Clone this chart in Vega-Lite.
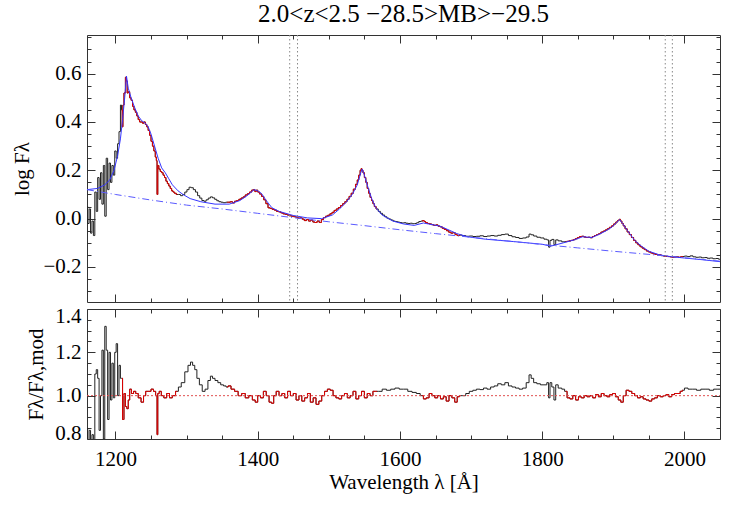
{
"$schema":"https://vega.github.io/schema/vega-lite/v6.json",
"padding":{"left":10,"top":2,"right":14,"bottom":4},
"bounds":"flush",
"config":{"font":"Liberation Serif, Times New Roman, serif","view":{"stroke":"#333","strokeWidth":1},"axis":{"grid":false,"labelFontSize":21,"titleFontSize":21,"labelColor":"#000","titleColor":"#000","titleFontWeight":"normal","tickColor":"#333","labelFont":"Liberation Serif, Times New Roman, serif","titleFont":"Liberation Serif, Times New Roman, serif","minExtent":0}},
"title":{"text":"2.0<z<2.5 −28.5>MB>−29.5","fontSize":25,"fontWeight":"normal","font":"Liberation Serif, Times New Roman, serif","color":"#000","anchor":"middle","frame":"group","offset":7},
"datasets":{
"spec":[
{"l":1160,"f":0.05,"w":0},{"l":1162,"f":-0.02,"w":0},{"l":1164,"f":0.04,"w":0},{"l":1166,"f":-0.06,"w":0},{"l":1168,"f":-0.01,"w":0},{"l":1170,"f":-0.07,"w":0},{"l":1172,"f":0.11,"w":0},{"l":1174,"f":0.03,"w":0},{"l":1176,"f":0.17,"w":0},{"l":1178,"f":0.08,"w":0},{"l":1180,"f":0.19,"w":0},{"l":1182,"f":0.06,"w":0},{"l":1184,"f":0.22,"w":0},{"l":1186,"f":0.01,"w":0},{"l":1188,"f":0.25,"w":0},{"l":1190,"f":0.12,"w":0},{"l":1192,"f":0.23,"w":0},{"l":1194,"f":0.15,"w":0},{"l":1196,"f":0.22,"w":0},{"l":1198,"f":0.18,"w":0},{"l":1200,"f":0.28,"w":0},{"l":1202,"f":0.25,"w":0},{"l":1204,"f":0.31,"w":0},{"l":1206,"f":0.36,"w":0},{"l":1208,"f":0.47,"w":0},
{"l":1209,"f":0.45,"w":1},{"l":1210,"f":0.38,"w":1},{"l":1211,"f":0.47,"w":1},{"l":1213,"f":0.52,"w":1},{"l":1215,"f":0.585,"w":1},{"l":1216,"f":0.57,"w":1},{"l":1217,"f":0.52,"w":1},{"l":1219,"f":0.525,"w":1},{"l":1221,"f":0.5,"w":1},{"l":1223,"f":0.49,"w":1},{"l":1225,"f":0.465,"w":1},{"l":1227,"f":0.45,"w":1},{"l":1229,"f":0.44,"w":1},{"l":1231,"f":0.425,"w":1},{"l":1233,"f":0.41,"w":1},{"l":1235,"f":0.4,"w":1},{"l":1237,"f":0.4,"w":1},{"l":1239,"f":0.395,"w":1},{"l":1241,"f":0.4,"w":1},{"l":1243,"f":0.39,"w":1},{"l":1245,"f":0.38,"w":1},{"l":1247,"f":0.365,"w":1},{"l":1249,"f":0.345,"w":1},{"l":1251,"f":0.32,"w":1},{"l":1253,"f":0.3,"w":1},{"l":1255,"f":0.28,"w":1},{"l":1257,"f":0.255,"w":1},{"l":1258,"f":0.24,"w":1},{"l":1259,"f":0.1,"w":1},{"l":1260,"f":0.22,"w":1},{"l":1262,"f":0.205,"w":1},{"l":1264,"f":0.195,"w":1},{"l":1266,"f":0.19,"w":1},{"l":1268,"f":0.18,"w":1},{"l":1270,"f":0.17,"w":1},{"l":1272,"f":0.155,"w":1},{"l":1274,"f":0.145,"w":1},{"l":1276,"f":0.135,"w":1},{"l":1278,"f":0.125,"w":1},{"l":1280,"f":0.115,"w":1},{"l":1282,"f":0.11,"w":1},{"l":1284,"f":0.105,"w":1},{"l":1287,"f":0.1,"w":1},
{"l":1290,"f":0.1,"w":0},{"l":1293,"f":0.095,"w":0},{"l":1296,"f":0.1,"w":0},{"l":1299,"f":0.11,"w":0},{"l":1302,"f":0.12,"w":0},{"l":1305,"f":0.13,"w":0},{"l":1308,"f":0.128,"w":0},{"l":1311,"f":0.12,"w":0},{"l":1314,"f":0.11,"w":0},{"l":1317,"f":0.095,"w":0},{"l":1320,"f":0.085,"w":0},{"l":1323,"f":0.075,"w":0},{"l":1326,"f":0.072,"w":0},{"l":1329,"f":0.078,"w":0},{"l":1332,"f":0.085,"w":0},{"l":1335,"f":0.09,"w":0},{"l":1338,"f":0.086,"w":0},{"l":1341,"f":0.08,"w":0},{"l":1344,"f":0.074,"w":0},{"l":1347,"f":0.07,"w":0},{"l":1350,"f":0.068,"w":0},{"l":1353,"f":0.066,"w":0},
{"l":1357,"f":0.068,"w":2},{"l":1360,"f":0.068,"w":2},{"l":1363,"f":0.07,"w":2},{"l":1366,"f":0.065,"w":2},{"l":1369,"f":0.072,"w":2},{"l":1372,"f":0.075,"w":2},{"l":1375,"f":0.08,"w":2},{"l":1378,"f":0.085,"w":2},{"l":1381,"f":0.09,"w":2},{"l":1384,"f":0.098,"w":2},{"l":1387,"f":0.103,"w":2},{"l":1390,"f":0.11,"w":2},{"l":1393,"f":0.118,"w":2},{"l":1395,"f":0.12,"w":2},{"l":1397,"f":0.112,"w":2},{"l":1399,"f":0.118,"w":2},{"l":1401,"f":0.11,"w":2},{"l":1404,"f":0.102,"w":2},{"l":1407,"f":0.092,"w":2},{"l":1410,"f":0.078,"w":2},{"l":1413,"f":0.062,"w":2},{"l":1416,"f":0.045,"w":2},{"l":1419,"f":0.042,"w":2},{"l":1422,"f":0.038,"w":2},{"l":1425,"f":0.035,"w":2},{"l":1428,"f":0.03,"w":2},{"l":1431,"f":0.028,"w":2},{"l":1434,"f":0.024,"w":2},{"l":1437,"f":0.02,"w":2},{"l":1440,"f":0.018,"w":2},{"l":1443,"f":0.015,"w":2},{"l":1446,"f":0.012,"w":2},{"l":1449,"f":0.01,"w":2},{"l":1452,"f":0.008,"w":2},{"l":1455,"f":0.006,"w":2},{"l":1458,"f":0.002,"w":2},{"l":1461,"f":0.003,"w":2},{"l":1464,"f":-0.002,"w":2},{"l":1467,"f":-0.008,"w":2},{"l":1470,"f":-0.004,"w":2},{"l":1473,"f":-0.01,"w":2},{"l":1476,"f":-0.006,"w":2},{"l":1479,"f":-0.014,"w":2},{"l":1482,"f":-0.016,"w":2},{"l":1485,"f":-0.01,"w":2},{"l":1488,"f":-0.016,"w":2},{"l":1491,"f":-0.004,"w":2},{"l":1494,"f":0.004,"w":2},{"l":1497,"f":0.01,"w":2},{"l":1500,"f":0.014,"w":2},{"l":1503,"f":0.02,"w":2},{"l":1506,"f":0.026,"w":2},{"l":1509,"f":0.034,"w":2},{"l":1512,"f":0.04,"w":2},{"l":1515,"f":0.046,"w":2},{"l":1518,"f":0.054,"w":2},{"l":1521,"f":0.062,"w":2},{"l":1524,"f":0.07,"w":2},{"l":1527,"f":0.08,"w":2},{"l":1530,"f":0.092,"w":2},{"l":1533,"f":0.105,"w":2},{"l":1536,"f":0.122,"w":2},{"l":1539,"f":0.142,"w":2},{"l":1541,"f":0.16,"w":2},{"l":1543,"f":0.18,"w":2},{"l":1545,"f":0.2,"w":2},{"l":1546,"f":0.207,"w":2},{"l":1547,"f":0.2,"w":2},{"l":1549,"f":0.19,"w":2},{"l":1551,"f":0.17,"w":2},{"l":1553,"f":0.15,"w":2},{"l":1555,"f":0.125,"w":2},{"l":1557,"f":0.105,"w":2},{"l":1559,"f":0.088,"w":2},{"l":1561,"f":0.075,"w":2},{"l":1563,"f":0.062,"w":2},{"l":1565,"f":0.05,"w":2},{"l":1568,"f":0.04,"w":2},
{"l":1571,"f":0.03,"w":0},{"l":1574,"f":0.022,"w":0},{"l":1577,"f":0.015,"w":0},{"l":1580,"f":0.008,"w":0},{"l":1583,"f":0.002,"w":0},{"l":1586,"f":-0.002,"w":0},{"l":1589,"f":-0.006,"w":0},{"l":1592,"f":-0.01,"w":0},{"l":1595,"f":-0.012,"w":0},{"l":1598,"f":-0.014,"w":0},{"l":1601,"f":-0.016,"w":0},{"l":1604,"f":-0.018,"w":0},{"l":1607,"f":-0.017,"w":0},{"l":1610,"f":-0.019,"w":0},{"l":1613,"f":-0.02,"w":0},{"l":1616,"f":-0.019,"w":0},{"l":1619,"f":-0.021,"w":0},{"l":1622,"f":-0.02,"w":0},{"l":1625,"f":-0.017,"w":0},{"l":1628,"f":-0.012,"w":0},
{"l":1631,"f":-0.01,"w":3},{"l":1633,"f":-0.008,"w":3},{"l":1635,"f":-0.012,"w":3},{"l":1637,"f":-0.016,"w":3},{"l":1640,"f":-0.02,"w":3},{"l":1643,"f":-0.022,"w":3},{"l":1646,"f":-0.025,"w":3},{"l":1649,"f":-0.028,"w":3},{"l":1652,"f":-0.026,"w":3},{"l":1655,"f":-0.031,"w":3},{"l":1658,"f":-0.034,"w":3},{"l":1661,"f":-0.04,"w":3},{"l":1664,"f":-0.045,"w":3},{"l":1667,"f":-0.05,"w":3},{"l":1670,"f":-0.056,"w":3},{"l":1673,"f":-0.06,"w":3},{"l":1676,"f":-0.058,"w":3},{"l":1679,"f":-0.066,"w":3},{"l":1682,"f":-0.07,"w":3},{"l":1685,"f":-0.068,"w":3},
{"l":1690,"f":-0.07,"w":0},{"l":1695,"f":-0.073,"w":0},{"l":1700,"f":-0.072,"w":0},{"l":1705,"f":-0.074,"w":0},{"l":1710,"f":-0.073,"w":0},{"l":1715,"f":-0.071,"w":0},{"l":1720,"f":-0.074,"w":0},{"l":1725,"f":-0.072,"w":0},{"l":1730,"f":-0.07,"w":0},{"l":1735,"f":-0.072,"w":0},{"l":1740,"f":-0.069,"w":0},{"l":1745,"f":-0.066,"w":0},{"l":1750,"f":-0.064,"w":0},{"l":1755,"f":-0.07,"w":0},{"l":1760,"f":-0.075,"w":0},{"l":1765,"f":-0.078,"w":0},{"l":1770,"f":-0.082,"w":0},{"l":1775,"f":-0.08,"w":0},{"l":1780,"f":-0.076,"w":0},{"l":1783,"f":-0.064,"w":0},{"l":1786,"f":-0.067,"w":0},{"l":1790,"f":-0.072,"w":0},{"l":1795,"f":-0.077,"w":0},{"l":1800,"f":-0.08,"w":0},{"l":1805,"f":-0.085,"w":0},{"l":1808,"f":-0.088,"w":0},{"l":1810,"f":-0.118,"w":0},{"l":1812,"f":-0.09,"w":0},{"l":1815,"f":-0.086,"w":0},{"l":1818,"f":-0.108,"w":0},{"l":1820,"f":-0.088,"w":0},{"l":1825,"f":-0.092,"w":0},{"l":1830,"f":-0.096,"w":0},
{"l":1833,"f":-0.095,"w":4},{"l":1836,"f":-0.094,"w":4},{"l":1839,"f":-0.092,"w":4},{"l":1842,"f":-0.09,"w":4},{"l":1845,"f":-0.087,"w":4},{"l":1848,"f":-0.083,"w":4},{"l":1851,"f":-0.078,"w":4},{"l":1854,"f":-0.074,"w":4},{"l":1857,"f":-0.073,"w":4},{"l":1860,"f":-0.076,"w":4},{"l":1863,"f":-0.078,"w":4},{"l":1866,"f":-0.077,"w":4},{"l":1869,"f":-0.079,"w":4},{"l":1872,"f":-0.074,"w":4},{"l":1875,"f":-0.07,"w":4},{"l":1878,"f":-0.066,"w":4},{"l":1881,"f":-0.062,"w":4},{"l":1884,"f":-0.056,"w":4},{"l":1887,"f":-0.052,"w":4},{"l":1890,"f":-0.047,"w":4},{"l":1893,"f":-0.042,"w":4},{"l":1896,"f":-0.036,"w":4},{"l":1899,"f":-0.03,"w":4},{"l":1902,"f":-0.022,"w":4},{"l":1905,"f":-0.014,"w":4},{"l":1907,"f":-0.008,"w":4},{"l":1909,"f":-0.003,"w":4},{"l":1911,"f":-0.01,"w":4},{"l":1913,"f":-0.02,"w":4},{"l":1915,"f":-0.03,"w":4},{"l":1918,"f":-0.042,"w":4},{"l":1921,"f":-0.055,"w":4},{"l":1924,"f":-0.066,"w":4},{"l":1927,"f":-0.078,"w":4},{"l":1930,"f":-0.09,"w":4},{"l":1933,"f":-0.1,"w":4},{"l":1936,"f":-0.108,"w":4},{"l":1939,"f":-0.116,"w":4},{"l":1942,"f":-0.122,"w":4},{"l":1945,"f":-0.128,"w":4},{"l":1948,"f":-0.134,"w":4},{"l":1951,"f":-0.138,"w":4},{"l":1954,"f":-0.142,"w":4},{"l":1957,"f":-0.145,"w":4},{"l":1960,"f":-0.148,"w":4},{"l":1963,"f":-0.15,"w":4},{"l":1966,"f":-0.15,"w":4},{"l":1969,"f":-0.153,"w":4},{"l":1972,"f":-0.155,"w":4},{"l":1975,"f":-0.156,"w":4},{"l":1978,"f":-0.157,"w":4},{"l":1981,"f":-0.158,"w":4},{"l":1984,"f":-0.16,"w":4},{"l":1987,"f":-0.159,"w":4},{"l":1990,"f":-0.158,"w":4},{"l":1993,"f":-0.16,"w":4},{"l":1996,"f":-0.158,"w":4},{"l":1998,"f":-0.157,"w":4},
{"l":2002,"f":-0.155,"w":0},{"l":2006,"f":-0.157,"w":0},{"l":2010,"f":-0.154,"w":0},{"l":2014,"f":-0.158,"w":0},{"l":2018,"f":-0.16,"w":0},{"l":2022,"f":-0.159,"w":0},{"l":2026,"f":-0.162,"w":0},{"l":2030,"f":-0.161,"w":0},{"l":2034,"f":-0.164,"w":0},{"l":2038,"f":-0.163,"w":0},{"l":2042,"f":-0.166,"w":0},{"l":2046,"f":-0.165,"w":0},{"l":2050,"f":-0.168,"w":0}
],
"model":[
{"l":1160,"f":0.12},{"l":1175,"f":0.125},{"l":1185,"f":0.14},{"l":1192,"f":0.16},{"l":1198,"f":0.2},{"l":1203,"f":0.26},{"l":1207,"f":0.33},{"l":1210,"f":0.41},{"l":1213,"f":0.5},{"l":1215.5,"f":0.59},{"l":1218,"f":0.54},{"l":1222,"f":0.5},{"l":1227,"f":0.46},{"l":1232,"f":0.425},{"l":1237,"f":0.405},{"l":1242,"f":0.395},{"l":1246,"f":0.38},{"l":1250,"f":0.35},{"l":1255,"f":0.3},{"l":1260,"f":0.25},{"l":1265,"f":0.21},{"l":1270,"f":0.19},{"l":1275,"f":0.165},{"l":1280,"f":0.14},{"l":1288,"f":0.115},{"l":1295,"f":0.1},{"l":1305,"f":0.083},{"l":1320,"f":0.07},{"l":1340,"f":0.06},{"l":1360,"f":0.06},{"l":1375,"f":0.075},{"l":1385,"f":0.095},{"l":1395,"f":0.12},{"l":1400,"f":0.115},{"l":1405,"f":0.105},{"l":1412,"f":0.075},{"l":1420,"f":0.045},{"l":1430,"f":0.03},{"l":1450,"f":0.013},{"l":1470,"f":0.003},{"l":1490,"f":0.0},{"l":1505,"f":0.015},{"l":1515,"f":0.04},{"l":1525,"f":0.07},{"l":1533,"f":0.1},{"l":1540,"f":0.14},{"l":1545,"f":0.19},{"l":1547,"f":0.205},{"l":1550,"f":0.18},{"l":1555,"f":0.13},{"l":1560,"f":0.085},{"l":1566,"f":0.045},{"l":1575,"f":0.015},{"l":1590,"f":-0.01},{"l":1605,"f":-0.022},{"l":1620,"f":-0.028},{"l":1633,"f":-0.018},{"l":1640,"f":-0.022},{"l":1655,"f":-0.03},{"l":1665,"f":-0.042},{"l":1680,"f":-0.062},{"l":1695,"f":-0.075},{"l":1720,"f":-0.085},{"l":1760,"f":-0.095},{"l":1800,"f":-0.106},{"l":1812,"f":-0.114},{"l":1830,"f":-0.1},{"l":1845,"f":-0.088},{"l":1857,"f":-0.075},{"l":1870,"f":-0.078},{"l":1880,"f":-0.065},{"l":1890,"f":-0.05},{"l":1898,"f":-0.035},{"l":1905,"f":-0.015},{"l":1909,"f":-0.004},{"l":1913,"f":-0.02},{"l":1920,"f":-0.05},{"l":1930,"f":-0.09},{"l":1940,"f":-0.115},{"l":1950,"f":-0.135},{"l":1965,"f":-0.15},{"l":1980,"f":-0.157},{"l":2000,"f":-0.163},{"l":2025,"f":-0.17},{"l":2050,"f":-0.178}
],
"cont":[
{"l":1160,"f":0.12},{"l":1200,"f":0.1},{"l":1250,"f":0.077},{"l":1300,"f":0.056},{"l":1350,"f":0.04},{"l":1400,"f":0.022},{"l":1450,"f":0.004},{"l":1500,"f":-0.013},{"l":1550,"f":-0.029},{"l":1600,"f":-0.046},{"l":1650,"f":-0.062},{"l":1700,"f":-0.077},{"l":1750,"f":-0.092},{"l":1800,"f":-0.107},{"l":1850,"f":-0.121},{"l":1900,"f":-0.135},{"l":1950,"f":-0.148},{"l":2000,"f":-0.162},{"l":2050,"f":-0.176}
],
"vl":[{"l":1445},{"l":1456},{"l":1973},{"l":1983}],
"ratio":[
{"l":1160,"r":0.85,"w":0},{"l":1162,"r":0.78,"w":0},{"l":1164,"r":0.84,"w":0},{"l":1166,"r":0.79,"w":0},{"l":1168,"r":0.82,"w":0},{"l":1170,"r":0.78,"w":0},{"l":1172,"r":1.1,"w":0},{"l":1174,"r":1.12,"w":0},{"l":1176,"r":1.08,"w":0},{"l":1178,"r":0.84,"w":0},{"l":1180,"r":1.0,"w":0},{"l":1182,"r":1.21,"w":0},{"l":1184,"r":0.8,"w":0},{"l":1186,"r":1.32,"w":0},{"l":1188,"r":1.21,"w":0},{"l":1190,"r":0.89,"w":0},{"l":1192,"r":1.2,"w":0},{"l":1194,"r":0.98,"w":0},{"l":1196,"r":1.15,"w":0},{"l":1198,"r":0.99,"w":0},{"l":1200,"r":1.2,"w":0},{"l":1202,"r":1.24,"w":0},{"l":1204,"r":1.0,"w":0},{"l":1206,"r":1.14,"w":0},{"l":1208,"r":1.08,"w":0},
{"l":1209,"r":1.08,"w":1},{"l":1211,"r":0.89,"w":1},{"l":1213,"r":1.01,"w":1},{"l":1215,"r":0.95,"w":1},{"l":1217,"r":0.94,"w":1},{"l":1219,"r":0.98,"w":1},{"l":1221,"r":1.03,"w":1},{"l":1224,"r":1.01,"w":1},{"l":1227,"r":1.02,"w":1},{"l":1230,"r":1.01,"w":1},{"l":1234,"r":0.99,"w":1},{"l":1238,"r":0.97,"w":1},{"l":1241,"r":1.0,"w":1},{"l":1244,"r":1.02,"w":1},{"l":1248,"r":1.02,"w":1},{"l":1252,"r":1.03,"w":1},{"l":1255,"r":1.02,"w":1},{"l":1258,"r":1.0,"w":1},{"l":1259,"r":0.82,"w":1},{"l":1260,"r":1.01,"w":1},{"l":1263,"r":1.02,"w":1},{"l":1266,"r":1.0,"w":1},{"l":1270,"r":0.99,"w":1},{"l":1274,"r":1.01,"w":1},{"l":1278,"r":0.99,"w":1},{"l":1282,"r":1.0,"w":1},{"l":1287,"r":1.02,"w":1},
{"l":1290,"r":1.04,"w":0},{"l":1295,"r":1.06,"w":0},{"l":1300,"r":1.11,"w":0},{"l":1304,"r":1.14,"w":0},{"l":1307,"r":1.155,"w":0},{"l":1310,"r":1.14,"w":0},{"l":1313,"r":1.12,"w":0},{"l":1316,"r":1.08,"w":0},{"l":1320,"r":1.05,"w":0},{"l":1324,"r":1.02,"w":0},{"l":1328,"r":1.03,"w":0},{"l":1332,"r":1.07,"w":0},{"l":1335,"r":1.09,"w":0},{"l":1338,"r":1.08,"w":0},{"l":1342,"r":1.07,"w":0},{"l":1346,"r":1.06,"w":0},{"l":1350,"r":1.05,"w":0},{"l":1354,"r":1.045,"w":0},
{"l":1357,"r":1.04,"w":2},{"l":1360,"r":1.045,"w":2},{"l":1365,"r":1.03,"w":2},{"l":1370,"r":1.02,"w":2},{"l":1375,"r":1.0,"w":2},{"l":1380,"r":1.01,"w":2},{"l":1385,"r":0.99,"w":2},{"l":1390,"r":1.0,"w":2},{"l":1395,"r":0.98,"w":2},{"l":1398,"r":0.97,"w":2},{"l":1402,"r":1.0,"w":2},{"l":1406,"r":0.99,"w":2},{"l":1410,"r":1.02,"w":2},{"l":1414,"r":1.0,"w":2},{"l":1418,"r":0.97,"w":2},{"l":1421,"r":0.965,"w":2},{"l":1424,"r":1.0,"w":2},{"l":1428,"r":1.02,"w":2},{"l":1432,"r":1.0,"w":2},{"l":1436,"r":1.01,"w":2},{"l":1440,"r":0.99,"w":2},{"l":1444,"r":1.02,"w":2},{"l":1448,"r":1.0,"w":2},{"l":1452,"r":1.01,"w":2},{"l":1456,"r":0.98,"w":2},{"l":1460,"r":1.0,"w":2},{"l":1464,"r":0.975,"w":2},{"l":1468,"r":0.99,"w":2},{"l":1472,"r":1.01,"w":2},{"l":1476,"r":0.97,"w":2},{"l":1480,"r":0.99,"w":2},{"l":1484,"r":0.96,"w":2},{"l":1488,"r":0.975,"w":2},{"l":1492,"r":1.0,"w":2},{"l":1496,"r":1.02,"w":2},{"l":1500,"r":1.03,"w":2},{"l":1504,"r":1.025,"w":2},{"l":1508,"r":1.0,"w":2},{"l":1512,"r":0.99,"w":2},{"l":1516,"r":0.985,"w":2},{"l":1520,"r":1.0,"w":2},{"l":1524,"r":1.01,"w":2},{"l":1528,"r":0.99,"w":2},{"l":1532,"r":1.0,"w":2},{"l":1536,"r":1.02,"w":2},{"l":1540,"r":0.985,"w":2},{"l":1544,"r":1.0,"w":2},{"l":1548,"r":1.02,"w":2},{"l":1552,"r":0.99,"w":2},{"l":1556,"r":1.01,"w":2},{"l":1560,"r":1.0,"w":2},{"l":1564,"r":1.02,"w":2},{"l":1568,"r":1.02,"w":2},
{"l":1572,"r":1.02,"w":0},{"l":1578,"r":1.03,"w":0},{"l":1584,"r":1.025,"w":0},{"l":1590,"r":1.03,"w":0},{"l":1596,"r":1.035,"w":0},{"l":1602,"r":1.03,"w":0},{"l":1608,"r":1.03,"w":0},{"l":1614,"r":1.02,"w":0},{"l":1620,"r":1.015,"w":0},{"l":1626,"r":1.01,"w":0},
{"l":1631,"r":1.0,"w":3},{"l":1635,"r":0.985,"w":3},{"l":1639,"r":0.99,"w":3},{"l":1643,"r":1.01,"w":3},{"l":1647,"r":1.0,"w":3},{"l":1651,"r":0.99,"w":3},{"l":1655,"r":1.0,"w":3},{"l":1659,"r":0.985,"w":3},{"l":1663,"r":0.995,"w":3},{"l":1667,"r":0.975,"w":3},{"l":1671,"r":1.0,"w":3},{"l":1675,"r":0.99,"w":3},{"l":1679,"r":0.97,"w":3},{"l":1682,"r":0.995,"w":3},{"l":1685,"r":1.0,"w":3},
{"l":1690,"r":1.0,"w":0},{"l":1695,"r":1.01,"w":0},{"l":1700,"r":1.02,"w":0},{"l":1705,"r":1.025,"w":0},{"l":1710,"r":1.03,"w":0},{"l":1715,"r":1.028,"w":0},{"l":1720,"r":1.035,"w":0},{"l":1725,"r":1.03,"w":0},{"l":1730,"r":1.04,"w":0},{"l":1735,"r":1.045,"w":0},{"l":1740,"r":1.055,"w":0},{"l":1745,"r":1.05,"w":0},{"l":1750,"r":1.06,"w":0},{"l":1755,"r":1.045,"w":0},{"l":1760,"r":1.04,"w":0},{"l":1765,"r":1.035,"w":0},{"l":1770,"r":1.03,"w":0},{"l":1775,"r":1.035,"w":0},{"l":1780,"r":1.06,"w":0},{"l":1783,"r":1.096,"w":0},{"l":1786,"r":1.08,"w":0},{"l":1790,"r":1.06,"w":0},{"l":1795,"r":1.055,"w":0},{"l":1800,"r":1.05,"w":0},{"l":1805,"r":1.05,"w":0},{"l":1808,"r":1.06,"w":0},{"l":1810,"r":0.99,"w":0},{"l":1812,"r":1.06,"w":0},{"l":1815,"r":1.04,"w":0},{"l":1818,"r":0.98,"w":0},{"l":1820,"r":1.05,"w":0},{"l":1825,"r":1.035,"w":0},{"l":1830,"r":1.03,"w":0},
{"l":1833,"r":1.02,"w":4},{"l":1837,"r":0.99,"w":4},{"l":1841,"r":0.985,"w":4},{"l":1845,"r":1.0,"w":4},{"l":1849,"r":0.98,"w":4},{"l":1853,"r":0.995,"w":4},{"l":1857,"r":0.99,"w":4},{"l":1861,"r":1.0,"w":4},{"l":1865,"r":0.995,"w":4},{"l":1869,"r":1.0,"w":4},{"l":1873,"r":0.99,"w":4},{"l":1877,"r":1.005,"w":4},{"l":1881,"r":0.995,"w":4},{"l":1885,"r":1.01,"w":4},{"l":1889,"r":1.0,"w":4},{"l":1893,"r":0.995,"w":4},{"l":1897,"r":1.005,"w":4},{"l":1901,"r":1.01,"w":4},{"l":1905,"r":0.995,"w":4},{"l":1909,"r":0.98,"w":4},{"l":1912,"r":0.97,"w":4},{"l":1916,"r":1.0,"w":4},{"l":1920,"r":1.025,"w":4},{"l":1924,"r":1.02,"w":4},{"l":1928,"r":1.01,"w":4},{"l":1932,"r":1.0,"w":4},{"l":1936,"r":0.99,"w":4},{"l":1940,"r":0.995,"w":4},{"l":1944,"r":0.985,"w":4},{"l":1948,"r":0.98,"w":4},{"l":1952,"r":0.975,"w":4},{"l":1956,"r":0.985,"w":4},{"l":1960,"r":0.99,"w":4},{"l":1964,"r":1.0,"w":4},{"l":1968,"r":0.995,"w":4},{"l":1972,"r":1.0,"w":4},{"l":1976,"r":1.005,"w":4},{"l":1980,"r":0.995,"w":4},{"l":1984,"r":1.005,"w":4},{"l":1988,"r":1.01,"w":4},{"l":1992,"r":1.01,"w":4},{"l":1996,"r":1.02,"w":4},{"l":1998,"r":1.025,"w":4},
{"l":2002,"r":1.035,"w":0},{"l":2008,"r":1.03,"w":0},{"l":2014,"r":1.03,"w":0},{"l":2020,"r":1.025,"w":0},{"l":2026,"r":1.03,"w":0},{"l":2032,"r":1.03,"w":0},{"l":2038,"r":1.025,"w":0},{"l":2044,"r":1.03,"w":0},{"l":2050,"r":1.03,"w":0}
],
"one":[{"l":1160,"r":1.0},{"l":2050,"r":1.0}]
},
"vconcat":[
{
"width":633,"height":267,
"resolve":{"axis":{"x":"independent","y":"independent"}},
"layer":[
{"data":{"name":"spec"},"mark":{"type":"line","interpolate":"step","color":"#222","strokeWidth":1,"clip":true},
"encoding":{
"x":{"field":"l","type":"quantitative","scale":{"domain":[1160,2050],"nice":false,"zero":false},"axis":{"orient":"bottom","labels":false,"ticks":false,"domain":false,"title":null,"maxExtent":0}},
"y":{"field":"f","type":"quantitative","scale":{"domain":[-0.345,0.76],"nice":false,"zero":false},"axis":{"orient":"left","values":[-0.2,0,0.2,0.4,0.6],"format":".1f","ticks":false,"domain":false,"labelPadding":6,"title":"log Fλ","titleX":-55}}}},
{"data":{"name":"spec"},"transform":[{"filter":"datum.w > 0"}],"mark":{"type":"line","interpolate":"step","color":"#e00000","strokeWidth":1,"clip":true},
"encoding":{
"detail":{"field":"w"},
"x":{"field":"l","type":"quantitative","axis":{"orient":"bottom","values":[1200,1400,1600,1800,2000],"labels":false,"domain":false,"tickSize":8,"offset":-8,"title":null,"maxExtent":0}},
"y":{"field":"f","type":"quantitative","axis":{"orient":"left","values":[-0.2,0,0.2,0.4,0.6],"labels":false,"domain":false,"tickSize":8,"offset":-8,"title":null,"maxExtent":0}}}},
{"data":{"name":"model"},"mark":{"type":"line","color":"#3535ff","strokeWidth":1,"clip":true},
"encoding":{
"x":{"field":"l","type":"quantitative","axis":{"orient":"bottom","values":[1250,1300,1350,1450,1500,1550,1650,1700,1750,1850,1900,1950],"labels":false,"domain":false,"tickSize":4,"offset":-4,"title":null,"maxExtent":0}},
"y":{"field":"f","type":"quantitative","axis":{"orient":"left","values":[-0.3,-0.25,-0.15,-0.1,-0.05,0.05,0.1,0.15,0.25,0.3,0.35,0.45,0.5,0.55,0.65,0.7,0.75],"labels":false,"domain":false,"tickSize":4,"offset":-4,"title":null,"maxExtent":0}}}},
{"data":{"name":"cont"},"mark":{"type":"line","color":"#5a5aff","strokeWidth":1,"strokeDash":[7,3,1,3],"clip":true},
"encoding":{
"x":{"field":"l","type":"quantitative","axis":{"orient":"top","values":[1200,1400,1600,1800,2000],"labels":false,"domain":false,"tickSize":8,"offset":-8,"title":null,"maxExtent":0}},
"y":{"field":"f","type":"quantitative","axis":{"orient":"right","values":[-0.2,0,0.2,0.4,0.6],"labels":false,"domain":false,"tickSize":8,"offset":-8,"title":null,"maxExtent":0}}}},
{"data":{"name":"vl"},"mark":{"type":"rule","color":"#888","strokeWidth":1,"strokeDash":[1.5,2.5]},
"encoding":{
"x":{"field":"l","type":"quantitative","axis":{"orient":"top","values":[1250,1300,1350,1450,1500,1550,1650,1700,1750,1850,1900,1950],"labels":false,"domain":false,"tickSize":4,"offset":-4,"title":null,"maxExtent":0}}}},
{"data":{"name":"cont"},"mark":{"type":"line","opacity":0,"clip":true},
"encoding":{
"x":{"field":"l","type":"quantitative","axis":null},
"y":{"field":"f","type":"quantitative","axis":{"orient":"right","values":[-0.3,-0.25,-0.15,-0.1,-0.05,0.05,0.1,0.15,0.25,0.3,0.35,0.45,0.5,0.55,0.65,0.7,0.75],"labels":false,"domain":false,"tickSize":4,"offset":-4,"title":null,"maxExtent":0}}}}
]
},
{
"width":633,"height":130,
"resolve":{"axis":{"x":"independent","y":"independent"}},
"layer":[
{"data":{"name":"ratio"},"mark":{"type":"line","interpolate":"step","color":"#222","strokeWidth":1,"clip":true},
"encoding":{
"x":{"field":"l","type":"quantitative","scale":{"domain":[1160,2050],"nice":false,"zero":false},"axis":{"orient":"bottom","values":[1200,1400,1600,1800,2000],"format":"d","ticks":false,"domain":false,"labelPadding":9,"title":"Wavelength λ [Å]","titlePadding":2}},
"y":{"field":"r","type":"quantitative","scale":{"domain":[0.8,1.4],"nice":false,"zero":false},"axis":{"orient":"left","values":[0.8,1.0,1.2,1.4],"format":".1f","ticks":false,"domain":false,"labelPadding":6,"labelFlush":true,"labelFlushOffset":4,"title":"Fλ/Fλ,mod","titleX":-41}}}},
{"data":{"name":"ratio"},"transform":[{"filter":"datum.w > 0"}],"mark":{"type":"line","interpolate":"step","color":"#e00000","strokeWidth":1,"clip":true},
"encoding":{
"detail":{"field":"w"},
"x":{"field":"l","type":"quantitative","axis":{"orient":"bottom","values":[1200,1400,1600,1800,2000],"labels":false,"domain":false,"tickSize":8,"offset":-8,"title":null,"maxExtent":0}},
"y":{"field":"r","type":"quantitative","axis":{"orient":"left","values":[0.8,1.0,1.2,1.4],"labels":false,"domain":false,"tickSize":8,"offset":-8,"title":null,"maxExtent":0}}}},
{"data":{"name":"one"},"mark":{"type":"line","color":"#e05050","strokeWidth":1,"strokeDash":[2,2],"clip":true},
"encoding":{
"x":{"field":"l","type":"quantitative","axis":{"orient":"bottom","values":[1250,1300,1350,1450,1500,1550,1650,1700,1750,1850,1900,1950],"labels":false,"domain":false,"tickSize":4,"offset":-4,"title":null,"maxExtent":0}},
"y":{"field":"r","type":"quantitative","axis":{"orient":"left","values":[0.85,0.9,0.95,1.05,1.1,1.15,1.25,1.3,1.35],"labels":false,"domain":false,"tickSize":4,"offset":-4,"title":null,"maxExtent":0}}}},
{"data":{"name":"one"},"mark":{"type":"line","opacity":0,"clip":true},
"encoding":{
"x":{"field":"l","type":"quantitative","axis":{"orient":"top","values":[1200,1400,1600,1800,2000],"labels":false,"domain":false,"tickSize":8,"offset":-8,"title":null,"maxExtent":0}},
"y":{"field":"r","type":"quantitative","axis":{"orient":"right","values":[0.8,1.0,1.2,1.4],"labels":false,"domain":false,"tickSize":8,"offset":-8,"title":null,"maxExtent":0}}}},
{"data":{"name":"one"},"mark":{"type":"line","opacity":0,"clip":true},
"encoding":{
"x":{"field":"l","type":"quantitative","axis":{"orient":"top","values":[1250,1300,1350,1450,1500,1550,1650,1700,1750,1850,1900,1950],"labels":false,"domain":false,"tickSize":4,"offset":-4,"title":null,"maxExtent":0}},
"y":{"field":"r","type":"quantitative","axis":{"orient":"right","values":[0.85,0.9,0.95,1.05,1.1,1.15,1.25,1.3,1.35],"labels":false,"domain":false,"tickSize":4,"offset":-4,"title":null,"maxExtent":0}}}}
]
}
],
"spacing":7
}
